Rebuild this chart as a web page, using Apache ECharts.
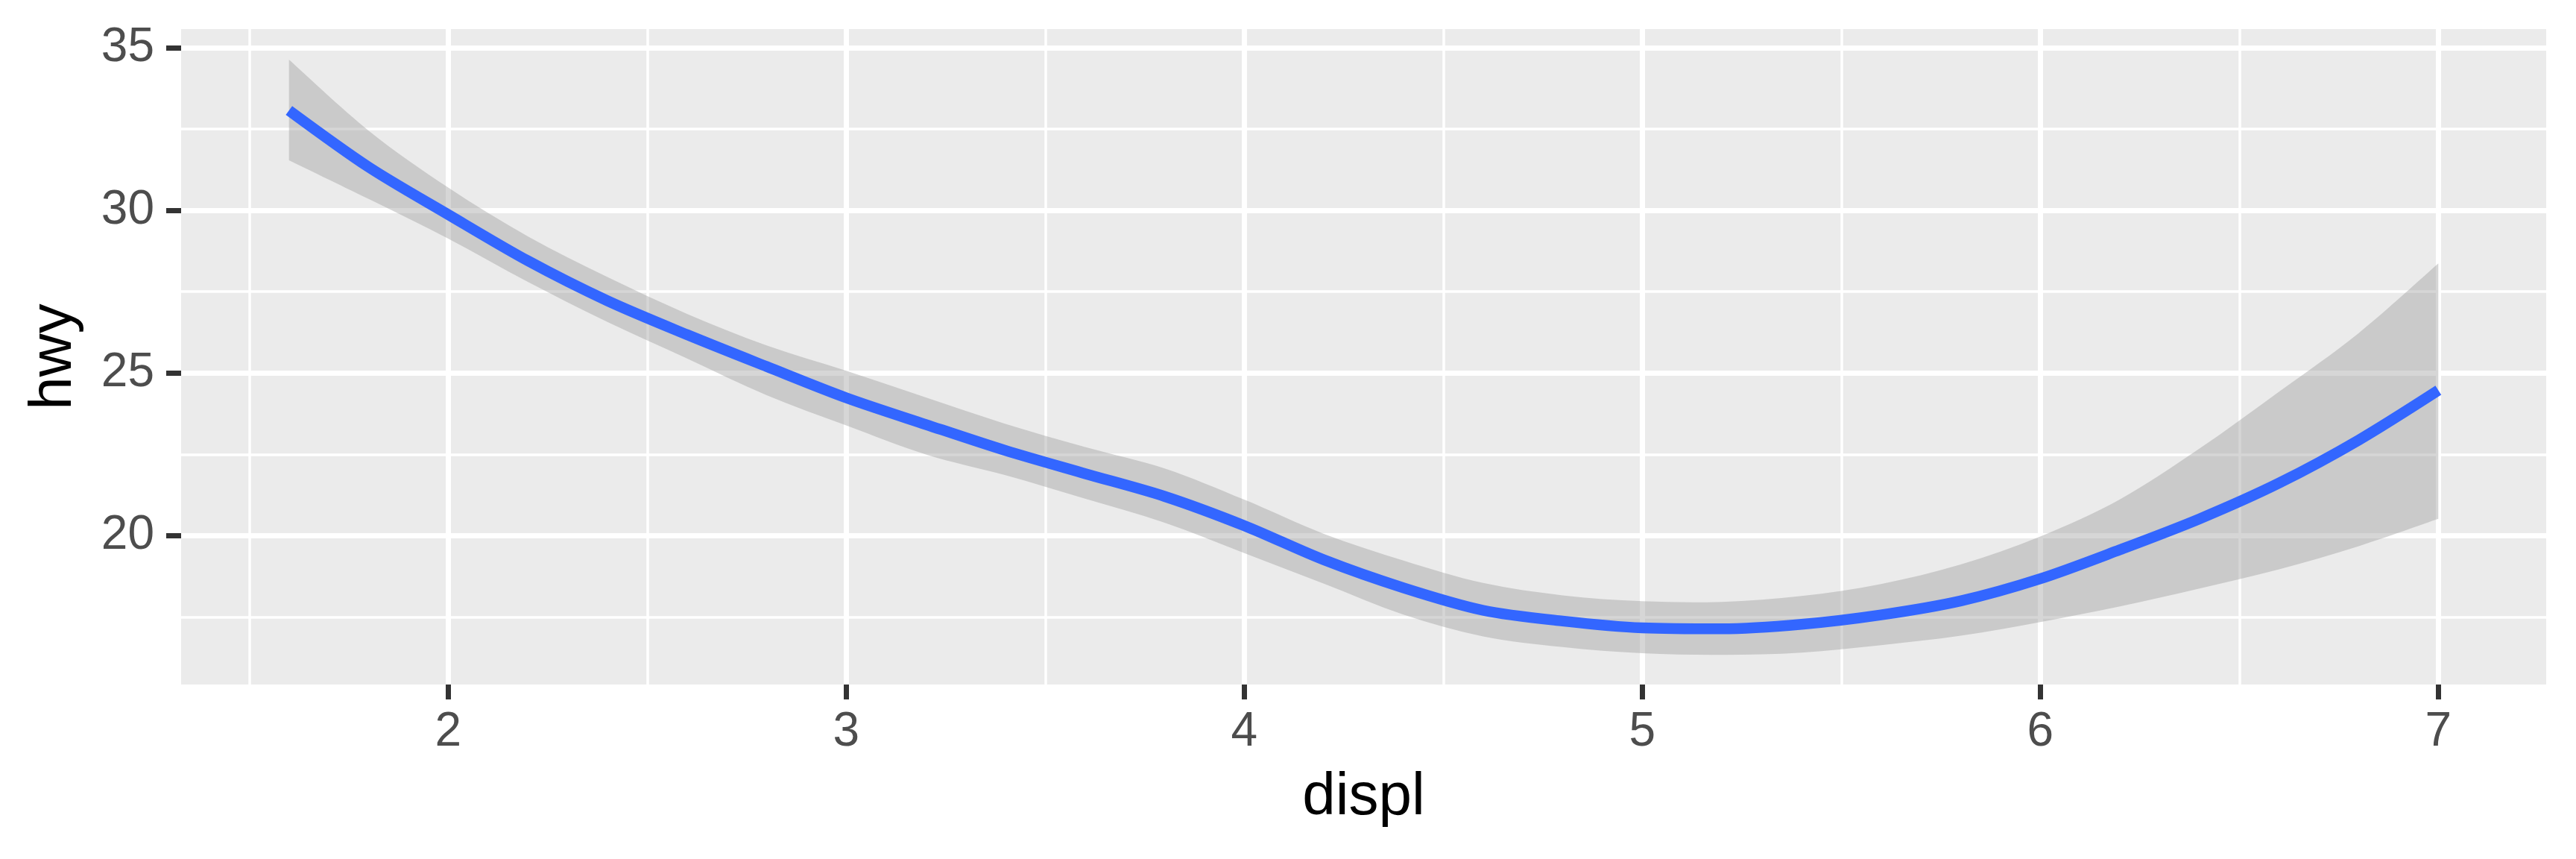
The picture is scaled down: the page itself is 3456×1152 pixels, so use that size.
<!DOCTYPE html>
<html>
<head>
<meta charset="utf-8">
<script src="https://cdn.jsdelivr.net/npm/echarts@6/dist/echarts.min.js"></script>
<style>
html,body{margin:0;padding:0;background:#ffffff;}
#chart{width:3456px;height:1152px;}
</style>
</head>
<body>
<div id="chart"></div>
<script>
// ---- data (loess fit of hwy ~ displ with 95% band) ----
const displ    = [1.6, 1.8, 2.0, 2.2, 2.4, 2.6, 2.8, 3.0, 3.2, 3.4, 3.6, 3.8, 4.0, 4.2, 4.4, 4.6, 4.8, 5.0, 5.2, 5.4, 5.6, 5.8, 6.0, 6.2, 6.4, 6.6, 6.8, 7.0];
const hwyFit   = [33.07, 31.33, 29.87, 28.45, 27.22, 26.18, 25.20, 24.24, 23.42, 22.62, 21.91, 21.21, 20.31, 19.26, 18.40, 17.71, 17.38, 17.17, 17.14, 17.28, 17.57, 18.00, 18.68, 19.57, 20.52, 21.62, 22.94, 24.47];
const hwyUpper = [34.63, 32.45, 30.70, 29.20, 27.95, 26.82, 25.85, 25.07, 24.25, 23.44, 22.73, 22.07, 21.11, 20.06, 19.24, 18.55, 18.17, 17.99, 17.97, 18.15, 18.52, 19.12, 19.98, 21.12, 22.68, 24.43, 26.23, 28.37];
const hwyLower = [31.54, 30.35, 29.13, 27.80, 26.57, 25.45, 24.32, 23.39, 22.50, 21.86, 21.14, 20.40, 19.47, 18.53, 17.58, 16.91, 16.58, 16.39, 16.34, 16.41, 16.64, 16.93, 17.35, 17.83, 18.38, 18.97, 19.68, 20.52];

const xMajorTicks = [2, 3, 4, 5, 6, 7];
const xMinorTicks = [1.5, 2.5, 3.5, 4.5, 5.5, 6.5];
const yMajorTicks = [20, 25, 30, 35];
const yMinorTicks = [17.5, 22.5, 27.5, 32.5];
const xRange = [1.329, 7.271];
const yRange = [15.43, 35.57];

const FONT = 'Liberation Sans, Arial, Helvetica, sans-serif';

const bandRows = displ.map((x, i) => [x, hwyLower[i], hwyUpper[i]]);
const fitPts   = displ.map((x, i) => [x, hwyFit[i]]);

const chart = echarts.init(document.getElementById('chart'), null, {renderer: 'canvas'});

// smooth (Catmull-Rom style) path segments through pixel points, rendering only
function splineSegs(p, k) {
  let d = '';
  const n = p.length;
  for (let i = 0; i < n - 1; i++) {
    const p0 = p[Math.max(i - 1, 0)], p1 = p[i], p2 = p[i + 1], p3 = p[Math.min(i + 2, n - 1)];
    const c1 = [p1[0] + (p2[0] - p0[0]) * k, p1[1] + (p2[1] - p0[1]) * k];
    const c2 = [p2[0] - (p3[0] - p1[0]) * k, p2[1] - (p3[1] - p1[1]) * k];
    d += ' C' + c1[0].toFixed(2) + ',' + c1[1].toFixed(2) + ' ' + c2[0].toFixed(2) + ',' + c2[1].toFixed(2) + ' ' + p2[0].toFixed(2) + ',' + p2[1].toFixed(2);
  }
  return d;
}

function renderBand(params, api) {
  if (params.dataIndex !== 0) return null;
  const up = [], lo = [];
  for (let i = 0; i < displ.length; i++) up.push(api.coord([displ[i], hwyUpper[i]]));
  for (let i = displ.length - 1; i >= 0; i--) lo.push(api.coord([displ[i], hwyLower[i]]));
  const k = 1 / 6;
  let d = 'M' + up[0][0].toFixed(2) + ',' + up[0][1].toFixed(2) + splineSegs(up, k);
  d += ' L' + lo[0][0].toFixed(2) + ',' + lo[0][1].toFixed(2) + splineSegs(lo, k) + ' Z';
  return {
    type: 'path',
    shape: {pathData: d},
    style: {fill: 'rgba(153,153,153,0.4)', stroke: null},
    silent: true
  };
}

const option = {
  animation: false,
  backgroundColor: '#ffffff',
  grid: {
    left: 243, right: 40, top: 39, bottom: 234,
    show: true, backgroundColor: '#EBEBEB', borderWidth: 0
  },
  xAxis: [
    {
      type: 'value', min: xRange[0], max: xRange[1], position: 'bottom',
      name: 'displ', nameLocation: 'middle', nameGap: 112,
      nameTextStyle: {fontFamily: FONT, fontSize: 80, color: '#000000'},
      axisLine: {show: false},
      axisTick: {show: true, length: 20, customValues: xMajorTicks, lineStyle: {color: '#333333', width: 7}},
      axisLabel: {show: true, customValues: xMajorTicks, margin: 32, fontFamily: FONT, fontSize: 64, color: '#4D4D4D'},
      splitLine: {show: true, lineStyle: {color: '#FFFFFF', width: 7}}
    },
    {
      type: 'value', min: xRange[0], max: xRange[1], position: 'bottom',
      axisLine: {show: false},
      axisTick: {show: false, customValues: xMinorTicks},
      axisLabel: {show: false},
      splitLine: {show: true, lineStyle: {color: '#FFFFFF', width: 3.5}}
    }
  ],
  yAxis: [
    {
      type: 'value', min: yRange[0], max: yRange[1], position: 'left',
      name: 'hwy', nameLocation: 'middle', nameGap: 130, nameRotate: 90,
      nameTextStyle: {fontFamily: FONT, fontSize: 80, color: '#000000'},
      axisLine: {show: false},
      axisTick: {show: true, length: 20, customValues: yMajorTicks, lineStyle: {color: '#333333', width: 7}},
      axisLabel: {show: true, customValues: yMajorTicks, margin: 36, fontFamily: FONT, fontSize: 64, color: '#4D4D4D'},
      splitLine: {show: true, lineStyle: {color: '#FFFFFF', width: 7}}
    },
    {
      type: 'value', min: yRange[0], max: yRange[1], position: 'left',
      axisLine: {show: false},
      axisTick: {show: false, customValues: yMinorTicks},
      axisLabel: {show: false},
      splitLine: {show: true, lineStyle: {color: '#FFFFFF', width: 3.5}}
    }
  ],
  series: [
    {
      name: 'band', type: 'custom', xAxisIndex: 0, yAxisIndex: 0,
      data: bandRows, encode: {x: 0, y: [1, 2]},
      renderItem: renderBand, silent: true, z: 2
    },
    {
      name: 'fit', type: 'line', xAxisIndex: 0, yAxisIndex: 0,
      data: fitPts, symbol: 'none', smooth: 0.3, silent: true,
      lineStyle: {color: '#3366FF', width: 14.5, cap: 'butt'}, z: 3
    }
  ]
};

chart.setOption(option);
</script>
</body>
</html>
